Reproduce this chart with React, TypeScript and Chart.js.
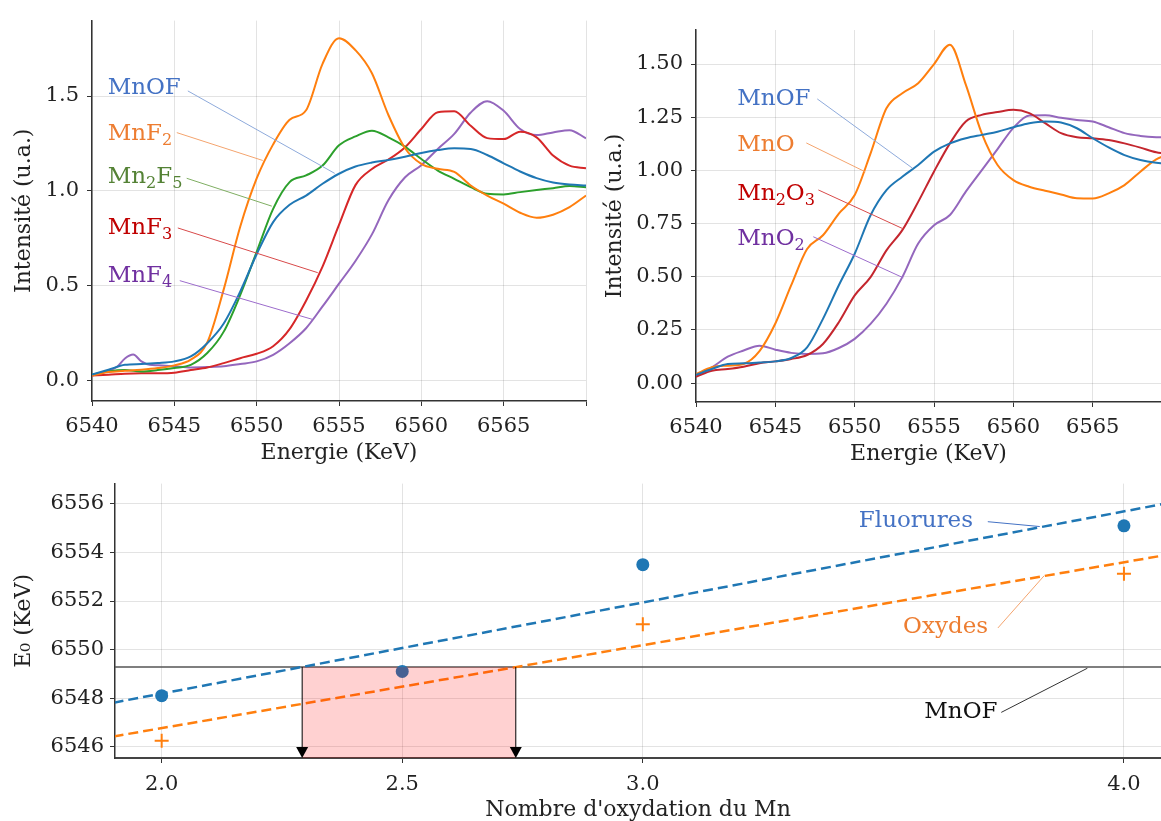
import React, { useEffect, useRef } from "react";
import { Chart, registerables } from "chart.js";
Chart.register(...registerables);

const FONT = "'DejaVu Serif', serif";
const GRID = "rgba(0,0,0,0.11)";
const INK = "#222";

// ---------- Top-left: fluorides ----------
const energiesF = [6540, 6541, 6542, 6543, 6544, 6545, 6546, 6547, 6548, 6549, 6550, 6551, 6552, 6553, 6554, 6555, 6556, 6557, 6558, 6559, 6560, 6561, 6562, 6563, 6564, 6565, 6566, 6567, 6568, 6569, 6570];
const mnofF = [0.03, 0.056, 0.082, 0.086, 0.091, 0.1, 0.126, 0.196, 0.3, 0.468, 0.665, 0.835, 0.926, 0.975, 1.037, 1.09, 1.128, 1.149, 1.163, 1.18, 1.2, 1.215, 1.224, 1.221, 1.189, 1.145, 1.102, 1.067, 1.044, 1.033, 1.028];
const mnf2 = [0.026, 0.044, 0.05, 0.056, 0.065, 0.079, 0.109, 0.2, 0.48, 0.81, 1.065, 1.245, 1.375, 1.425, 1.67, 1.805, 1.742, 1.62, 1.4, 1.226, 1.142, 1.116, 1.1, 1.028, 0.975, 0.932, 0.884, 0.858, 0.874, 0.914, 0.975];
const mn2f5 = [0.03, 0.047, 0.054, 0.047, 0.054, 0.065, 0.082, 0.144, 0.257, 0.45, 0.678, 0.905, 1.046, 1.081, 1.133, 1.24, 1.287, 1.317, 1.282, 1.233, 1.168, 1.107, 1.063, 1.019, 0.984, 0.981, 0.993, 1.004, 1.014, 1.025, 1.019];
const mnf3 = [0.026, 0.03, 0.035, 0.037, 0.037, 0.04, 0.054, 0.068, 0.091, 0.117, 0.14, 0.18, 0.27, 0.42, 0.6, 0.82, 1.03, 1.115, 1.165, 1.229, 1.326, 1.415, 1.42, 1.343, 1.278, 1.273, 1.312, 1.282, 1.186, 1.133, 1.119];
const energiesMnF4 = [6540, 6541, 6541.5, 6542, 6542.5, 6543, 6543.5, 6544, 6545, 6546, 6547, 6548, 6549, 6550, 6551, 6552, 6553, 6554, 6555, 6556, 6557, 6558, 6559, 6560, 6561, 6562, 6563, 6564, 6565, 6566, 6567, 6568, 6569, 6570];
const mnf4 = [0.026, 0.05, 0.07, 0.115, 0.136, 0.1, 0.082, 0.08, 0.074, 0.068, 0.07, 0.074, 0.086, 0.1, 0.135, 0.196, 0.275, 0.39, 0.51, 0.63, 0.77, 0.95, 1.07, 1.135, 1.221, 1.3, 1.413, 1.473, 1.422, 1.326, 1.294, 1.308, 1.32, 1.277];

// ---------- Top-right: oxides ----------
const energiesO = [6540, 6541, 6542, 6543, 6544, 6545, 6546, 6547, 6548, 6549, 6550, 6551, 6552, 6553, 6554, 6555, 6556, 6557, 6558, 6559, 6560, 6561, 6562, 6563, 6564, 6565, 6566, 6567, 6568, 6569, 6570];
const mnofO = [0.039, 0.066, 0.09, 0.093, 0.097, 0.102, 0.118, 0.168, 0.302, 0.46, 0.608, 0.789, 0.907, 0.97, 1.025, 1.088, 1.127, 1.151, 1.167, 1.182, 1.203, 1.222, 1.23, 1.225, 1.198, 1.151, 1.108, 1.072, 1.049, 1.036, 1.03];
const mno = [0.042, 0.074, 0.082, 0.09, 0.15, 0.28, 0.46, 0.63, 0.695, 0.797, 0.884, 1.08, 1.292, 1.363, 1.41, 1.5, 1.591, 1.403, 1.175, 1.025, 0.954, 0.923, 0.904, 0.887, 0.869, 0.868, 0.892, 0.931, 0.994, 1.052, 1.08];
const mn2o3 = [0.03, 0.058, 0.066, 0.077, 0.093, 0.102, 0.113, 0.132, 0.184, 0.286, 0.412, 0.498, 0.624, 0.719, 0.852, 0.995, 1.127, 1.23, 1.261, 1.274, 1.285, 1.269, 1.222, 1.175, 1.156, 1.151, 1.143, 1.127, 1.107, 1.085, 1.075];
const mno2 = [0.035, 0.074, 0.124, 0.153, 0.176, 0.157, 0.142, 0.137, 0.14, 0.165, 0.208, 0.278, 0.373, 0.498, 0.656, 0.742, 0.79, 0.9, 1.0, 1.1, 1.2, 1.258, 1.259, 1.247, 1.237, 1.23, 1.203, 1.175, 1.162, 1.156, 1.155];

// ---------- Bottom: E0 vs oxidation state ----------
const oxFluor = [2.0, 2.5, 3.0, 4.0];
const e0Fluor = [6548.1, 6549.1, 6553.5, 6555.1];
const oxOxyd = [2.0, 3.0, 4.0];
const e0Oxyd = [6546.24, 6551.04, 6553.12];
const fitX = [1.9, 4.1];
const fitFluor = [6547.81, 6556.07];
const fitOxyd = [6546.42, 6553.94];
const mnofE0 = 6549.28;
const mnofOxRange = [2.292, 2.736];
const bottomXTicks = [2.0, 2.5, 3.0, 4.0];

// ---------- helpers ----------
const pts = (xs: number[], ys: number[]) => xs.map((x, i) => ({ x, y: ys[i] }));

const curve = (xs: number[], ys: number[], color: string) => ({
  data: pts(xs, ys),
  showLine: true,
  borderColor: color,
  backgroundColor: color,
  borderWidth: 2,
  pointRadius: 0,
  cubicInterpolationMode: "monotone" as const,
  fill: false,
});

function drawRich(ctx: CanvasRenderingContext2D, text: string, x: number, yMid: number, size: number, color: string) {
  const segs: { t: string; sub: boolean }[] = [];
  for (let i = 0; i < text.length; i++) {
    if (text[i] === "_") {
      segs.push({ t: text[i + 1], sub: true });
      i++;
    } else {
      const last = segs[segs.length - 1];
      if (last && !last.sub) last.t += text[i];
      else segs.push({ t: text[i], sub: false });
    }
  }
  const subSize = size * 0.7;
  ctx.fillStyle = color;
  ctx.textBaseline = "alphabetic";
  ctx.textAlign = "left";
  const base = yMid + size * 0.36;
  let cx = x;
  for (const s of segs) {
    ctx.font = `${s.sub ? subSize : size}px ${FONT}`;
    ctx.fillText(s.t, cx, s.sub ? base + size * 0.22 : base);
    cx += ctx.measureText(s.t).width;
  }
}

type Annot = { text: string; color: string; lineColor: string; tx: number; ty: number; x1: number; y1: number; x2: number; y2: number };

const annotPlugin = (annots: Annot[], size: number) => ({
  id: "annots",
  afterDatasetsDraw(chart: any) {
    const { ctx, scales } = chart;
    const x = scales.x, y = scales.y;
    ctx.save();
    for (const a of annots) {
      ctx.strokeStyle = a.lineColor;
      ctx.lineWidth = 1;
      ctx.beginPath();
      ctx.moveTo(x.getPixelForValue(a.x1), y.getPixelForValue(a.y1));
      ctx.lineTo(x.getPixelForValue(a.x2), y.getPixelForValue(a.y2));
      ctx.stroke();
      drawRich(ctx, a.text, x.getPixelForValue(a.tx), y.getPixelForValue(a.ty), size, a.color);
    }
    ctx.restore();
  },
});

const annotsTL: Annot[] = [
  { text: "MnOF", color: "#4472c4", lineColor: "#8eaadb", tx: 6540.95, ty: 1.554, x1: 6545.82, y1: 1.527, x2: 6554.74, y2: 1.092 },
  { text: "MnF_2", color: "#ed7d31", lineColor: "#f4a46e", tx: 6540.95, ty: 1.313, x1: 6545.15, y1: 1.307, x2: 6550.37, y2: 1.16 },
  { text: "Mn_2F_5", color: "#548235", lineColor: "#7fae62", tx: 6540.95, ty: 1.087, x1: 6545.75, y1: 1.066, x2: 6550.92, y2: 0.919 },
  { text: "MnF_3", color: "#c00000", lineColor: "#d84a4a", tx: 6540.95, ty: 0.814, x1: 6545.21, y1: 0.804, x2: 6553.71, y2: 0.568 },
  { text: "MnF_4", color: "#7030a0", lineColor: "#9c6ccc", tx: 6540.95, ty: 0.563, x1: 6545.33, y1: 0.526, x2: 6553.41, y2: 0.321 },
];

const annotsTR: Annot[] = [
  { text: "MnOF", color: "#4472c4", lineColor: "#8eaadb", tx: 6542.6, ty: 1.345, x1: 6547.64, y1: 1.336, x2: 6553.63, y2: 1.011 },
  { text: "MnO", color: "#ed7d31", lineColor: "#f4a46e", tx: 6542.6, ty: 1.129, x1: 6546.95, y1: 1.129, x2: 6550.67, y2: 0.993 },
  { text: "Mn_2O_3", color: "#c00000", lineColor: "#d84a4a", tx: 6542.6, ty: 0.899, x1: 6547.71, y1: 0.908, x2: 6553.06, y2: 0.725 },
  { text: "MnO_2", color: "#7030a0", lineColor: "#9c6ccc", tx: 6542.6, ty: 0.688, x1: 6547.39, y1: 0.688, x2: 6553.06, y2: 0.495 },
];

const annotsB: Annot[] = [
  { text: "Fluorures", color: "#4472c4", lineColor: "#4472c4", tx: 3.449, ty: 6555.39, x1: 3.717, y1: 6555.27, x2: 3.825, y2: 6555.07 },
  { text: "Oxydes", color: "#ed7d31", lineColor: "#f4a46e", tx: 3.541, ty: 6551.01, x1: 3.738, y1: 6550.89, x2: 3.834, y2: 6553.04 },
  { text: "MnOF", color: "#111", lineColor: "#333", tx: 3.585, ty: 6547.53, x1: 3.745, y1: 6547.41, x2: 3.924, y2: 6549.23 },
];

const rangePlugin = {
  id: "mnofRange",
  afterDatasetsDraw(chart: any) {
    const { ctx, scales, chartArea } = chart;
    const x = scales.x, y = scales.y;
    const xl = x.getPixelForValue(mnofOxRange[0]);
    const xr = x.getPixelForValue(mnofOxRange[1]);
    const yt = y.getPixelForValue(mnofE0);
    const yb = chartArea.bottom;
    ctx.save();
    ctx.fillStyle = "rgba(255,0,0,0.18)";
    ctx.fillRect(xl, yt, xr - xl, yb - yt);
    for (const xp of [xl, xr]) {
      ctx.strokeStyle = "#000";
      ctx.lineWidth = 1;
      ctx.beginPath();
      ctx.moveTo(xp, yt);
      ctx.lineTo(xp, yb - 10);
      ctx.stroke();
      ctx.fillStyle = "#000";
      ctx.beginPath();
      ctx.moveTo(xp - 6, yb - 11);
      ctx.lineTo(xp + 6, yb - 11);
      ctx.lineTo(xp, yb);
      ctx.closePath();
      ctx.fill();
    }
    ctx.restore();
  },
};

const tickFont = { family: FONT, size: 21 };
const titleFont = { family: FONT, size: 22 };
const border = { display: true, color: "#333", width: 1.5 };
const grid = { color: GRID, tickColor: "#333", tickLength: 5, lineWidth: 1 };
const baseOpts = {
  animation: false as const,
  responsive: false,
  events: [] as any[],
  plugins: { legend: { display: false }, tooltip: { enabled: false } },
};

function cfgTopLeft(): any {
  return {
    type: "scatter",
    data: {
      datasets: [
        curve(energiesF, mnofF, "#1f77b4"),
        curve(energiesF, mnf2, "#ff7f0e"),
        curve(energiesF, mn2f5, "#2ca02c"),
        curve(energiesF, mnf3, "#d62728"),
        curve(energiesMnF4, mnf4, "#9467bd"),
      ],
    },
    options: {
      ...baseOpts,
      layout: { padding: { top: 18, right: 14, left: 0, bottom: 0 } },
      scales: {
        x: {
          type: "linear", min: 6540, max: 6570,
          afterFit: (s: any) => { s.height = 69; },
          ticks: { stepSize: 5, font: tickFont, color: INK, padding: 8, maxRotation: 0, callback: (v: number) => (v === 6570 ? "" : String(v)) },
          grid, border,
          title: { display: true, text: "Energie (KeV)", font: titleFont, color: INK, padding: { top: 0, bottom: 4 } },
        },
        y: {
          type: "linear", min: -0.109, max: 1.898,
          afterFit: (s: any) => { s.width = 92; },
          ticks: { stepSize: 0.5, includeBounds: false, font: tickFont, color: INK, padding: 8, callback: (v: number) => v.toFixed(1) },
          grid, border,
          title: { display: true, text: "Intensité (u.a.)", font: titleFont, color: INK, padding: { top: 11, bottom: 0 } },
        },
      },
    },
    plugins: [annotPlugin(annotsTL, 23)],
  };
}

function cfgTopRight(): any {
  return {
    type: "scatter",
    data: {
      datasets: [
        curve(energiesO, mnofO, "#1f77b4"),
        curve(energiesO, mno, "#ff7f0e"),
        curve(energiesO, mn2o3, "#c4262e"),
        curve(energiesO, mno2, "#9467bd"),
      ],
    },
    options: {
      ...baseOpts,
      layout: { padding: { top: 30, right: 0, left: 0, bottom: 0 } },
      scales: {
        x: {
          type: "linear", min: 6540, max: 6569.3,
          afterFit: (s: any) => { s.height = 68; },
          ticks: { stepSize: 5, includeBounds: false, font: tickFont, color: INK, padding: 8, maxRotation: 0, callback: (v: number) => String(v) },
          grid, border,
          title: { display: true, text: "Energie (KeV)", font: titleFont, color: INK, padding: { top: 0, bottom: 3 } },
        },
        y: {
          type: "linear", min: -0.089, max: 1.66,
          afterFit: (s: any) => { s.width = 106; },
          ticks: { stepSize: 0.25, includeBounds: false, font: tickFont, color: INK, padding: 8, callback: (v: number) => v.toFixed(2) },
          grid, border,
          title: { display: true, text: "Intensité (u.a.)", font: titleFont, color: INK, padding: { top: 12, bottom: 0 } },
        },
      },
    },
    plugins: [annotPlugin(annotsTR, 23)],
  };
}

function cfgBottom(): any {
  return {
    type: "scatter",
    data: {
      datasets: [
        { data: pts(oxFluor, e0Fluor), pointRadius: 6.5, pointBorderWidth: 0, backgroundColor: "#1f77b4", borderColor: "#1f77b4", showLine: false },
        { data: pts(oxOxyd, e0Oxyd), pointStyle: "cross", pointRadius: 7, pointBorderWidth: 2, borderColor: "#ff7f0e", backgroundColor: "#ff7f0e", showLine: false },
        { data: pts(fitX, fitFluor), showLine: true, pointRadius: 0, borderColor: "#1f77b4", borderWidth: 2.5, borderDash: [10, 5] },
        { data: pts(fitX, fitOxyd), showLine: true, pointRadius: 0, borderColor: "#ff7f0e", borderWidth: 2.5, borderDash: [10, 5] },
        { data: pts(fitX, [mnofE0, mnofE0]), showLine: true, pointRadius: 0, borderColor: "#555", borderWidth: 1.5 },
      ],
    },
    options: {
      ...baseOpts,
      layout: { padding: { top: 14, right: 0, left: 0, bottom: 0 } },
      scales: {
        x: {
          type: "linear", min: 1.903, max: 4.077,
          afterFit: (s: any) => { s.height = 63; s.paddingRight = 0; },
          afterBuildTicks: (s: any) => { s.ticks = bottomXTicks.map((v) => ({ value: v })); },
          ticks: { font: tickFont, color: INK, padding: 9, maxRotation: 0, callback: (v: number) => Number(v).toFixed(1) },
          grid, border: { display: true, color: "#444", width: 2 },
          title: { display: true, text: "Nombre d'oxydation du Mn", font: { ...titleFont, lineHeight: 1.0 }, color: INK, padding: { top: 0, bottom: 0 } },
        },
        y: {
          type: "linear", min: 6545.53, max: 6556.84,
          afterFit: (s: any) => { s.width = 115; },
          ticks: { stepSize: 2, includeBounds: false, font: tickFont, color: INK, padding: 6, callback: (v: number) => String(v) },
          grid, border,
          title: { display: true, text: "E₀ (KeV)", font: titleFont, color: INK, padding: { top: 11, bottom: 0 } },
        },
      },
    },
    plugins: [rangePlugin, annotPlugin(annotsB, 23)],
  };
}

export default function App() {
  const r1 = useRef<HTMLCanvasElement>(null);
  const r2 = useRef<HTMLCanvasElement>(null);
  const r3 = useRef<HTMLCanvasElement>(null);
  useEffect(() => {
    const charts = [
      new Chart(r1.current!, cfgTopLeft()),
      new Chart(r2.current!, cfgTopRight()),
      new Chart(r3.current!, cfgBottom()),
    ];
    return () => charts.forEach((c) => c.destroy());
  }, []);
  return (
    <div style={{ position: "absolute", left: 0, top: 0, width: 1161, height: 821, overflow: "hidden", background: "#fff" }}>
      <canvas ref={r1} width={600} height={470} style={{ position: "absolute", left: 0, top: 0, width: 600, height: 470 }} />
      <canvas ref={r2} width={571} height={470} style={{ position: "absolute", left: 590, top: 0, width: 571, height: 470 }} />
      <canvas ref={r3} width={1170} height={356} style={{ position: "absolute", left: 0, top: 465, width: 1170, height: 356 }} />
    </div>
  );
}
